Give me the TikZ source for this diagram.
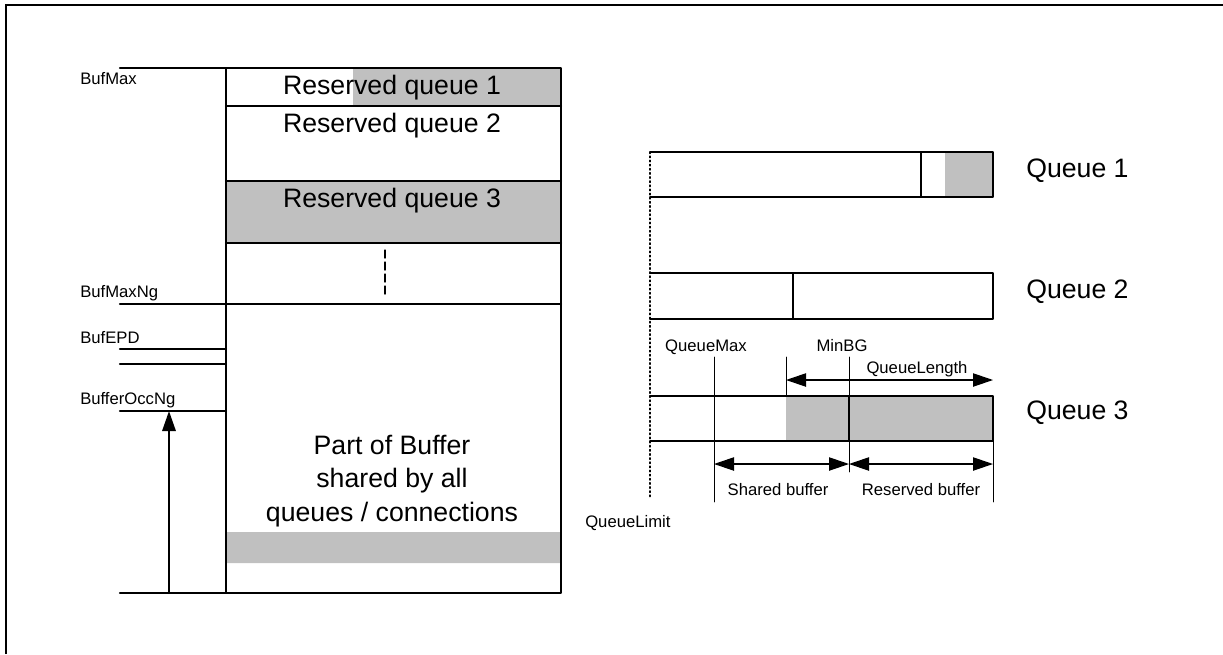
\documentclass[tikz,border=0pt]{standalone}
\usepackage{fontspec, tkz-euclide}
\usetikzlibrary{arrows.meta}
\setmainfont{Liberation Sans}
\definecolor{shade}{HTML}{C0C0C0}
\tikzset{
  lab/.style={font=\fontsize{12.5}{14}\selectfont, inner sep=0pt},
  big/.style={font=\fontsize{20}{24}\selectfont, inner sep=0pt},
  tip/.style={-{Triangle[length=15pt,width=10pt]}},
  twotip/.style={{Triangle[length=15pt,width=10pt]}-{Triangle[length=15pt,width=10pt]}}
}

\begin{document}
\begin{tikzpicture}[x=0.75pt, y=-0.75pt]
    \useasboundingbox (0,0) rectangle (1223,654);
    % frame
    \tkzDefPoints{6/654/F0, 6/5/F1, 1223/5/F2}
    \draw[line width=1.5pt] (F0) -- (F1) -- (F2);
    % left: the buffer
    \tkzDefPoints{226/68/TL, 561/68/TR, 561/593/BR, 226/593/BL,
      226/106/L1, 561/106/R1, 226/181/L2, 561/181/R2,
      226/243/L3, 561/243/R3, 226/304/L4, 561/304/R4,
      353/68/G1, 353/106/G2,
      226/532/S1, 561/532/S2, 561/563/S3, 226/563/S4,
      385/250/D1, 385/297/D2}
    \tkzDefPoints{120/68/M0, 120/304/M1, 120/349/M2, 226/349/E2,
      120/364/M3, 226/364/E3, 120/411/M4, 226/411/E4, 120/593/M5,
      169/593/P0, 169/411/P1}
    \tkzFillPolygon[color=shade](G1,TR,R1,G2)
    \tkzFillPolygon[color=shade](L2,R2,R3,L3)
    \tkzFillPolygon[color=shade](S1,S2,S3,S4)
    \tkzDrawPolygon[line width=1.6pt](TL,TR,BR,BL)
    \tkzDrawSegments[line width=1.6pt](L1,R1 L2,R2 L3,R3 L4,R4)
    \tkzDrawSegments[line width=1.6pt](M0,TL M1,L4 M2,E2 M3,E3 M4,E4 M5,BL)
    \tkzDrawSegments[line width=1pt, dash pattern=on 6pt off 3pt](D1,D2)
    \tkzDrawSegments[line width=1.6pt, tip](P0,P1)
    \node[big, anchor=base] (rq1) at (392,94) {Reserved queue 1};
    \node[big, anchor=base] (rq2) at (392,132) {Reserved queue 2};
    \node[big, anchor=base] (rq3) at (392,207) {Reserved queue 3};
    \node[big, align=center] (part) at (392,481)
      {Part of Buffer\\[1pt] shared by all\\[1pt] queues / connections};
    \node[lab, anchor=base west] (bmax) at (80,84) {BufMax};
    \node[lab, anchor=base west] (bmaxng) at (80,297) {BufMaxNg};
    \node[lab, anchor=base west] (bepd) at (80,343) {BufEPD};
    \node[lab, anchor=base west] (bocc) at (80,404) {BufferOccNg};
    % right: the queues
    \tkzDefPoints{650/152/Z0, 650/498/Z1,
      650/152/A0, 921/152/A1, 993/152/A2, 993/197/A3, 921/197/A4, 650/197/A5,
      945/152/AG, 945/197/AH}
    \tkzDefPoints{650/273/B0, 793/273/B1, 993/273/B2, 993/319/B3, 793/319/B4, 650/319/B5}
    \tkzDefPoints{650/396/C0, 786/396/C1, 849/396/C2, 993/396/C3,
      993/441/C4, 849/441/C5, 786/441/C6, 650/441/C7}
    \tkzDefPoints{714/357/V1, 714/502/V2, 849/357/V3, 849/472/V4,
      786/357/V5, 993/502/V6,
      786/380/K1, 993/380/K2, 714/464/K3, 849/464/K4, 993/464/K5}
    \tkzFillPolygon[color=shade](AG,A2,A3,AH)
    \tkzFillPolygon[color=shade](C1,C3,C4,C6)
    \tkzDrawSegments[line width=1.1pt, dotted](Z0,Z1)
    \tkzDrawSegments[line width=1.4pt](A0,A1 A5,A4 B0,B1 B5,B4 C0,C2 C7,C5)
    \tkzDrawPolygon[line width=1.6pt](A1,A2,A3,A4)
    \tkzDrawPolygon[line width=1.7pt](B1,B2,B3,B4)
    \tkzDrawPolygon[line width=1.7pt](C2,C3,C4,C5)
    \tkzDrawSegments[line width=0.7pt](V1,V2 V3,V4 V5,C1 C4,V6)
    \tkzDrawSegments[line width=0.9pt, twotip](K1,K2 K3,K4 K4,K5)
    \node[big, anchor=base west] (q1) at (1026,177) {Queue 1};
    \node[big, anchor=base west] (q2) at (1026,298) {Queue 2};
    \node[big, anchor=base west] (q3) at (1026,419) {Queue 3};
    \node[lab, anchor=base] (qmax) at (706,351) {QueueMax};
    \node[lab, anchor=base] (minbg) at (842,351) {MinBG};
    \node[lab, anchor=base] (qlen) at (917,373) {QueueLength};
    \node[lab, anchor=base] (shbuf) at (778,495) {Shared buffer};
    \node[lab, anchor=base] (rsbuf) at (921,495) {Reserved buffer};
    \node[lab, anchor=base west] (qlim) at (585,527) {QueueLimit};
\end{tikzpicture}
\end{document}
